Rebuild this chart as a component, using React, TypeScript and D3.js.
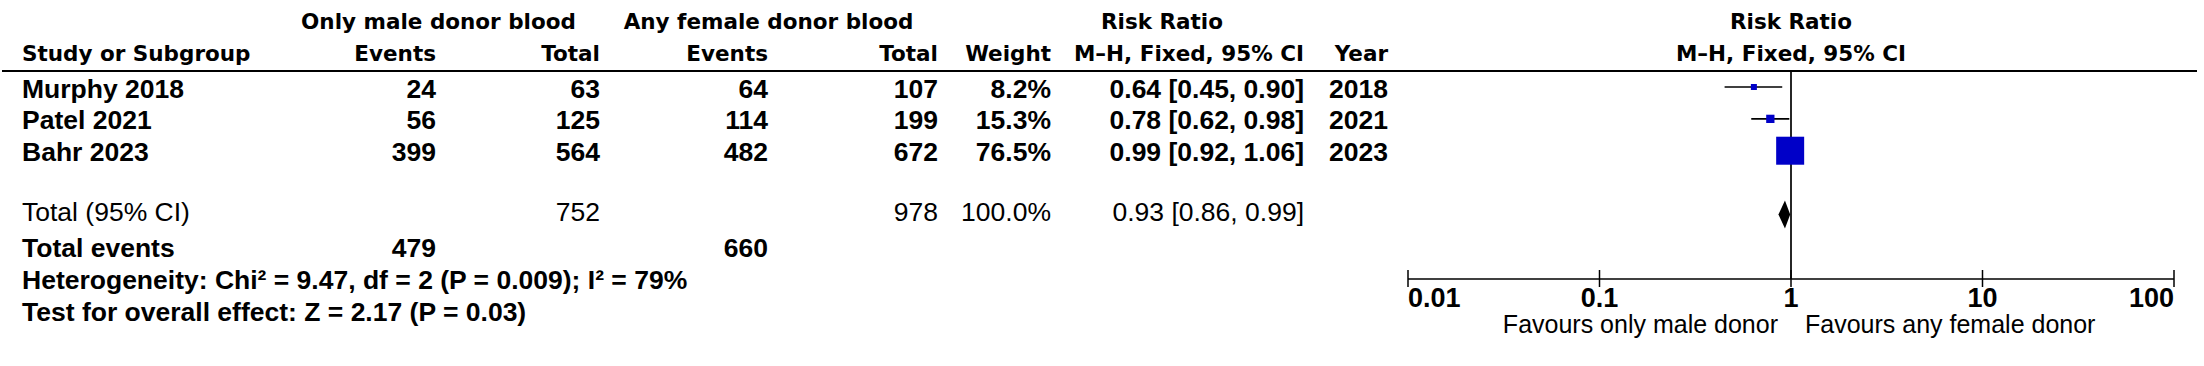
import React from "react";
import * as d3 from "d3";

const studies = ["Murphy 2018", "Patel 2021", "Bahr 2023"];
const maleEvents = [24, 56, 399];
const maleTotal = [63, 125, 564];
const femaleEvents = [64, 114, 482];
const femaleTotal = [107, 199, 672];
const weights = [8.2, 15.3, 76.5];
const rr = [0.64, 0.78, 0.99];
const rrLo = [0.45, 0.62, 0.92];
const rrHi = [0.9, 0.98, 1.06];
const years = [2018, 2021, 2023];

const totalLabel = "Total (95% CI)";
const totalMale = 752;
const totalFemale = 978;
const totalWeight = 100.0;
const totalRR = 0.93;
const totalLo = 0.86;
const totalHi = 0.99;
const totalEventsMale = 479;
const totalEventsFemale = 660;
const heterogeneity = "Heterogeneity: Chi² = 9.47, df = 2 (P = 0.009); I² = 79%";
const overallEffect = "Test for overall effect: Z = 2.17 (P = 0.03)";

const tickValues = [0.01, 0.1, 1, 10, 100];
const tickLabels = ["0.01", "0.1", "1", "10", "100"];
const favourLeft = "Favours only male donor";
const favourRight = "Favours any female donor";

const W = 2204;
const H = 366;

const HEAD_FONT = "'DejaVu Sans', sans-serif";
const BODY_FONT = "'Liberation Sans', Arial, sans-serif";

export default function App() {
  const x = d3.scaleLog().domain([0.01, 100]).range([1408, 2174]);
  const rowY = d3.scalePoint<number>().domain([0, 1, 2, 3, 4, 5, 6, 7]).range([87, 310]);
  const boxSize = d3.scaleLinear().domain([8.2, 76.5]).range([6, 28]);
  const fmt2 = d3.format(".2f");
  const fmtW = d3.format(".1f");
  const ci = (r: number, l: number, h: number) => `${fmt2(r)} [${fmt2(l)}, ${fmt2(h)}]`;

  const col = {
    study: 22,
    mEv: 436,
    mTot: 600,
    fEv: 768,
    fTot: 938,
    weight: 1051,
    ci: 1304,
    year: 1388,
  };

  const headStyle: React.CSSProperties = { fontFamily: HEAD_FONT, fontWeight: 700, fontSize: 21.5 };
  const rowStyle: React.CSSProperties = { fontFamily: BODY_FONT, fontWeight: 700, fontSize: 26.5 };
  const regStyle: React.CSSProperties = { fontFamily: BODY_FONT, fontWeight: 400, fontSize: 26.5 };
  const tb = 10.5; // baseline offset from row centre

  const axisY = 279;
  const headerLineY = 71;
  const totalY = rowY(4)!;

  return (
    <svg width={W} height={H} style={{ position: "absolute", left: 0, top: 0, background: "#fff" }}>
      {/* header row 1 */}
      <g style={headStyle} fill="#000">
        <text x={(297 + 580) / 2} y={29} textAnchor="middle">Only male donor blood</text>
        <text x={(614 + 923) / 2} y={29} textAnchor="middle">Any female donor blood</text>
        <text x={1162} y={29} textAnchor="middle">Risk Ratio</text>
        <text x={x(1)} y={29} textAnchor="middle">Risk Ratio</text>
        <text x={col.study} y={61}>Study or Subgroup</text>
        <text x={col.mEv} y={61} textAnchor="end">Events</text>
        <text x={col.mTot} y={61} textAnchor="end">Total</text>
        <text x={col.fEv} y={61} textAnchor="end">Events</text>
        <text x={col.fTot} y={61} textAnchor="end">Total</text>
        <text x={col.weight} y={61} textAnchor="end">Weight</text>
        <text x={col.ci} y={61} textAnchor="end">M–H, Fixed, 95% CI</text>
        <text x={col.year} y={61} textAnchor="end">Year</text>
        <text x={x(1)} y={61} textAnchor="middle">M–H, Fixed, 95% CI</text>
      </g>
      <line x1={2} x2={2197} y1={headerLineY} y2={headerLineY} stroke="#000" strokeWidth={2} />

      {/* study rows */}
      <g style={rowStyle} fill="#000">
        {studies.map((s, i) => {
          const y = rowY(i)! + tb;
          return (
            <g key={s}>
              <text x={col.study} y={y}>{s}</text>
              <text x={col.mEv} y={y} textAnchor="end">{maleEvents[i]}</text>
              <text x={col.mTot} y={y} textAnchor="end">{maleTotal[i]}</text>
              <text x={col.fEv} y={y} textAnchor="end">{femaleEvents[i]}</text>
              <text x={col.fTot} y={y} textAnchor="end">{femaleTotal[i]}</text>
              <text x={col.weight} y={y} textAnchor="end">{fmtW(weights[i])}%</text>
              <text x={col.ci} y={y} textAnchor="end">{ci(rr[i], rrLo[i], rrHi[i])}</text>
              <text x={col.year} y={y} textAnchor="end">{years[i]}</text>
            </g>
          );
        })}
      </g>

      {/* total row */}
      <g style={regStyle} fill="#000">
        <text x={col.study} y={totalY + tb - 4}>{totalLabel}</text>
        <text x={col.mTot} y={totalY + tb - 4} textAnchor="end">{totalMale}</text>
        <text x={col.fTot} y={totalY + tb - 4} textAnchor="end">{totalFemale}</text>
        <text x={col.weight} y={totalY + tb - 4} textAnchor="end">{fmtW(totalWeight)}%</text>
        <text x={col.ci} y={totalY + tb - 4} textAnchor="end">{ci(totalRR, totalLo, totalHi)}</text>
      </g>
      <g style={rowStyle} fill="#000">
        <text x={col.study} y={rowY(5)! + tb}>Total events</text>
        <text x={col.mEv} y={rowY(5)! + tb} textAnchor="end">{totalEventsMale}</text>
        <text x={col.fEv} y={rowY(5)! + tb} textAnchor="end">{totalEventsFemale}</text>
        <text x={col.study} y={rowY(6)! + tb}>{heterogeneity}</text>
        <text x={col.study} y={rowY(7)! + tb}>{overallEffect}</text>
      </g>

      {/* forest plot */}
      <line x1={x(1)} x2={x(1)} y1={headerLineY} y2={axisY} stroke="#000" strokeWidth={1.7} />
      {studies.map((s, i) => {
        const y = rowY(i)!;
        const b = boxSize(weights[i]);
        return (
          <g key={"f" + s}>
            <line x1={x(rrLo[i])} x2={x(rrHi[i])} y1={y} y2={y} stroke="#000" strokeWidth={1.6} />
            <rect x={x(rr[i]) - b / 2} y={y - b / 2} width={b} height={b} fill="#0000C8" />
          </g>
        );
      })}
      <polygon
        points={[
          [x(totalLo), totalY],
          [x(totalRR), totalY - 14],
          [x(totalHi), totalY],
          [x(totalRR), totalY + 14],
        ].map((p) => p.join(",")).join(" ")}
        fill="#000"
      />

      {/* axis */}
      <line x1={x(0.01)} x2={x(100)} y1={axisY} y2={axisY} stroke="#000" strokeWidth={1.6} />
      {tickValues.map((t, i) => (
        <g key={"t" + t}>
          <line x1={x(t)} x2={x(t)} y1={axisY - 9} y2={axisY + 8} stroke="#000" strokeWidth={1.5} />
          <text
            x={x(t)}
            y={307}
            textAnchor={i === 0 ? "start" : i === tickValues.length - 1 ? "end" : "middle"}
            style={{ fontFamily: BODY_FONT, fontWeight: 700, fontSize: 27 }}
            fill="#000"
          >
            {tickLabels[i]}
          </text>
        </g>
      ))}
      <text x={x(1) - 13} y={333} textAnchor="end" style={{ fontFamily: BODY_FONT, fontSize: 25 }} fill="#000">
        {favourLeft}
      </text>
      <text x={x(1) + 14} y={333} textAnchor="start" style={{ fontFamily: BODY_FONT, fontSize: 25 }} fill="#000">
        {favourRight}
      </text>
    </svg>
  );
}
